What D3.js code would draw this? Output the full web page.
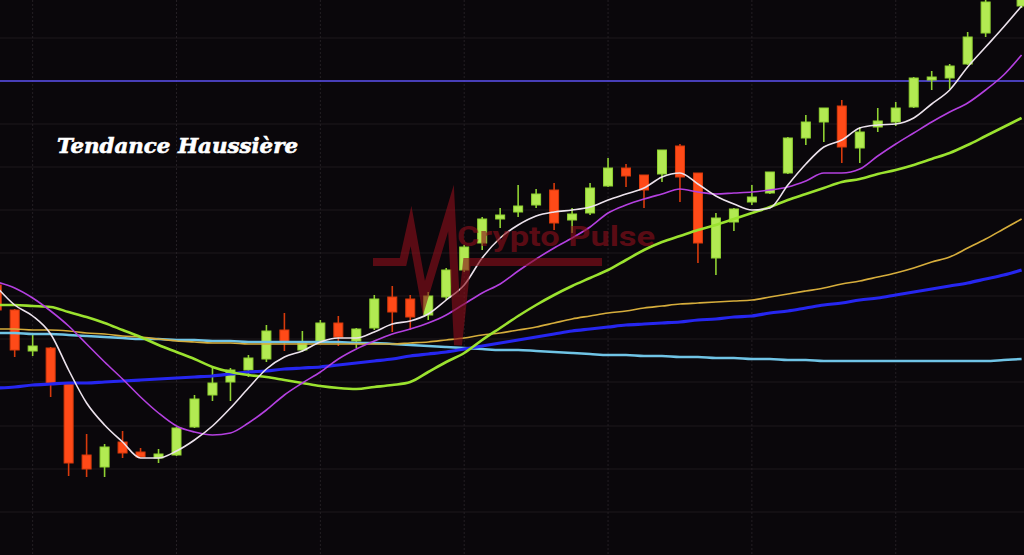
<!DOCTYPE html>
<html>
<head>
<meta charset="utf-8">
<script src="https://cdn.jsdelivr.net/npm/d3@7"></script>
<style>
  html, body { margin: 0; padding: 0; background: #0a070b; overflow: hidden; }
  svg { display: block; }
</style>
</head>
<body>
<svg id="chart" width="1024" height="555"></svg>
<script>
// ---- DATA (price units) ----
const openP  = [715,690,649,652,616,545,533,558,548,542, 545,573,605,618,630,641,670,650,658,677, 659,672,703,701,685,703,730,757,781,788, 795,810,780,787,814,832,825,826,854,827, 742,778,798,807,827,862,878,894,852,873, 878,893,920,922,936,967,1005,994];
const highP  = [718,691,665,653,617,566,556,569,552,551, 573,605,632,632,645,675,687,669,680,684, 672,705,714,705,708,732,755,783,792,815, 811,817,792,817,842,836,825,850,856,827, 787,792,815,828,863,885,892,900,873,892, 898,923,929,936,968,1003,1035,1025];
const lowP   = [688,643,644,603,524,523,523,542,543,537, 544,572,599,599,623,638,649,648,657,654, 652,670,668,670,680,700,728,750,772,783, 792,770,767,785,813,813,792,818,798,737, 725,769,795,806,826,855,858,837,837,868, 874,892,910,911,935,963,1002,992];
const closeP = [690,650,654,617,537,531,553,547,543,546, 572,601,617,630,642,669,658,657,677,663, 671,701,688,683,704,730,753,781,785,794, 806,777,786,812,832,824,810,850,823,757, 782,791,803,828,862,878,892,853,868,879, 892,922,923,934,963,998,1030,1020];

const maWhite   = [713,695,684,666,630,597,575,558,542,542, 549,560,574,592,612,631,643,649,658,662, 662,668,676,679,686,700,715,742,762,775, 784,788,790,793,800,806,812,823,827,816, 804,796,790,792,815,836,853,860,872,875, 876,882,896,910,933,953,973,994];
const maMagenta = [718,712,702,689,674,656,638,621,603,587, 574,568,565,567,577,590,605,617,628,641, 651,659,666,671,677,685,696,707,716,729, 741,752,762,773,787,795,801,806,811,808, 806,807,808,810,813,819,827,827,831,844, 856,867,878,888,897,910,925,945];
const maGreen   = [695,695,694,693,688,683,677,670,663,655, 648,641,633,628,625,623,620,617,614,612, 611,613,615,618,628,638,647,660,672,684, 695,705,714,722,730,740,750,758,764,770, 775,781,787,793,800,806,812,818,821,826, 830,835,841,847,855,864,873,882];
const maOrange  = [671,671,670,670,669,667,666,664,663,661, 659,658,657,657,656,656,656,656,656,656, 656,656,656,657,658,660,662,665,667,670, 673,677,681,684,687,689,692,694,696,697, 698,699,700,703,706,709,712,716,719,723, 727,732,738,743,752,761,771,781];
const maBlue    = [612,613,615,616,617,617,618,619,620,621, 622,623,624,626,628,629,631,632,633,635, 637,639,641,644,646,648,651,654,657,660, 663,666,669,671,673,675,676,677,678,680, 681,683,684,687,689,692,695,697,700,702, 705,708,711,714,717,721,725,730];
const maCyan    = [667,667,666,666,665,664,663,662,661,661, 660,660,659,659,658,658,658,658,658,658, 657,657,656,655,654,653,652,651,650,650, 649,648,647,646,645,645,644,644,643,643, 642,642,641,641,640,640,639,639,639,639, 639,639,639,639,639,639,640,641];

const gridPrices = [962,919,876,833,790,747,704,661,618,574,531,488];
const gridIndex  = [2,10,18,26,34,42,50];
const resistance = 919;
const titleText = "Tendance Haussière";
const watermarkText = "Crypto Pulse";

// ---- SCALES ----
const W = 1024, H = 555;
const x = d3.scaleLinear().domain([0, 57]).range([-3.3, 1021.6]);
const y = d3.scaleLinear().domain([445, 1000]).range([555, 0]);
const svg = d3.select("#chart");

svg.append("rect").attr("width", W).attr("height", H).attr("fill", "#0a070b");

// grid
const grid = svg.append("g");
grid.selectAll("line.h").data(gridPrices).join("line")
  .attr("x1", 0).attr("x2", W)
  .attr("y1", d => y(d)).attr("y2", d => y(d))
  .attr("stroke", "#1d181d").attr("stroke-width", 1.2);
grid.selectAll("line.v").data(gridIndex).join("line")
  .attr("x1", d => x(d)).attr("x2", d => x(d))
  .attr("y1", 0).attr("y2", H)
  .attr("stroke", "#241f24").attr("stroke-width", 1).attr("stroke-dasharray", "2,2");

// resistance line
svg.append("line")
  .attr("x1", 0).attr("x2", W)
  .attr("y1", y(resistance)).attr("y2", y(resistance))
  .attr("stroke", "#5a4ff0").attr("stroke-width", 1.6);

// candles
const candles = d3.range(openP.length).map(i => ({
  i, o: openP[i], h: highP[i], l: lowP[i], c: closeP[i]
}));
const bodyW = 9;
const green = "#b2ea52", greenEdge = "#90d232";
const red = "#ff4a18", redEdge = "#d83a0c";
const cg = svg.append("g");
cg.selectAll("line.wick").data(candles).join("line")
  .attr("x1", d => x(d.i)).attr("x2", d => x(d.i))
  .attr("y1", d => y(d.h)).attr("y2", d => y(d.l))
  .attr("stroke", d => d.c >= d.o ? greenEdge : redEdge)
  .attr("stroke-width", 1.6);
cg.selectAll("rect.body").data(candles).join("rect")
  .attr("x", d => x(d.i) - bodyW / 2)
  .attr("width", bodyW)
  .attr("y", d => y(Math.max(d.o, d.c)))
  .attr("height", d => Math.max(1.5, Math.abs(y(d.o) - y(d.c))))
  .attr("fill", d => d.c >= d.o ? green : red)
  .attr("stroke", d => d.c >= d.o ? greenEdge : redEdge)
  .attr("stroke-width", 1);

// moving averages
const series = [
  { data: maCyan,    color: "#70c4e6", w: 2.5 },
  { data: maBlue,    color: "#2626f0", w: 3.2 },
  { data: maOrange,  color: "#d6ad3c", w: 1.7 },
  { data: maGreen,   color: "#9be22f", w: 2.6 },
  { data: maMagenta, color: "#b440e0", w: 1.6 },
  { data: maWhite,   color: "#ece2ec", w: 1.6 }
];
const line = d3.line().x((d, i) => x(i)).y(d => y(d)).curve(d3.curveMonotoneX);
svg.append("g").selectAll("path").data(series).join("path")
  .attr("d", s => line(s.data))
  .attr("fill", "none")
  .attr("stroke", s => s.color)
  .attr("stroke-width", s => s.w)
  .attr("stroke-linejoin", "round");

// watermark (logo + text)
const wm = svg.append("g").attr("opacity", 0.62);
wm.append("path")
  .attr("d", "M373,262 L403,262 L411,226 L424,298 L451,208 L458,345 L467,262 L602,262")
  .attr("fill", "none").attr("stroke", "#8a0f1a").attr("stroke-width", 8)
  .attr("stroke-linejoin", "miter").attr("stroke-miterlimit", 10);
wm.append("text")
  .attr("x", 457).attr("y", 246)
  .attr("font-family", "Roboto, 'Liberation Sans', sans-serif")
  .attr("font-weight", 700).attr("font-size", 28)
  .attr("textLength", 198).attr("lengthAdjust", "spacingAndGlyphs")
  .attr("fill", "#8a0f1a")
  .text(watermarkText);

// title
svg.append("text")
  .attr("x", 57).attr("y", 153)
  .attr("font-family", "'DejaVu Serif', 'Liberation Serif', serif")
  .attr("font-weight", 700).attr("font-style", "italic").attr("font-size", 20)
  .attr("textLength", 241).attr("lengthAdjust", "spacingAndGlyphs")
  .attr("fill", "#ffffff").attr("stroke", "#ffffff").attr("stroke-width", 0.6)
  .text(titleText);
</script>
</body>
</html>
